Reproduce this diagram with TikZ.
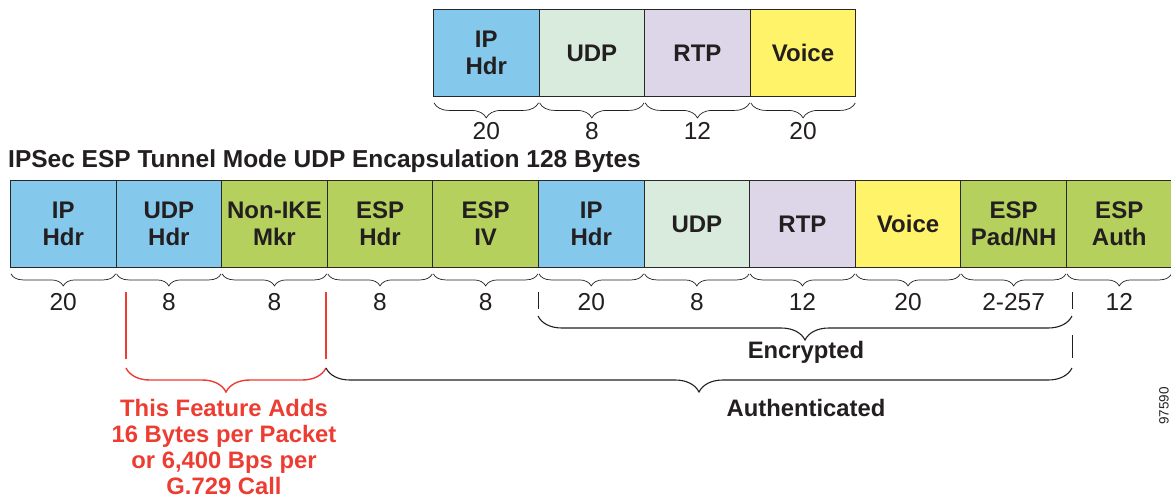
\documentclass[tikz,border=0pt]{standalone}
\usepackage{fontspec}
\setmainfont{Liberation Sans}
\usetikzlibrary{decorations.pathreplacing}
\definecolor{ipblue}{RGB}{132,200,236}
\definecolor{udpgreen}{RGB}{216,235,221}
\definecolor{rtppurple}{RGB}{221,213,232}
\definecolor{voiceyellow}{RGB}{255,243,106}
\definecolor{espgreen}{RGB}{181,208,92}
\definecolor{featred}{RGB}{237,61,50}
\definecolor{ink}{RGB}{35,31,32}
\definecolor{boxline}{RGB}{40,40,40}
\begin{document}
\begin{tikzpicture}[x=1pt,y=-1pt,
  box/.style={draw=boxline, line width=0.9pt, minimum width=105.6pt, minimum height=87pt,
    anchor=north west, inner sep=0pt, align=center,
    font=\fontsize{24}{27}\selectfont\bfseries, text=ink},
  brc/.style={draw=ink, line width=0.7pt, decorate, decoration={brace, mirror, amplitude=#1}},
  num/.style={font=\fontsize{24.5}{26}\selectfont, text=ink, inner sep=0pt},
  lbl/.style={font=\fontsize{23.8}{26}\selectfont\bfseries, text=ink, inner sep=0pt},
  redtxt/.style={font=\fontsize{23.8}{26}\selectfont\bfseries, text=featred, align=center, inner sep=0pt},
  redln/.style={draw=featred, line width=1.4pt},
  blkln/.style={draw=ink, line width=0.8pt}
]
\useasboundingbox (0,0) rectangle (1171,499);
\clip (0,0) rectangle (1171,499);

% top row
\node[box, fill=ipblue] (t1) at (433,9) {IP\\Hdr};
\node[box, fill=udpgreen] (t2) at (538.6,9) {UDP};
\node[box, fill=rtppurple] (t3) at (644.2,9) {RTP};
\node[box, fill=voiceyellow] (t4) at (749.8,9) {Voice};
\foreach \n/\v in {t1/20,t2/8,t3/12,t4/20}{
  \draw[brc=15pt] ([xshift=1pt,yshift=-6pt]\n.south west) -- ([xshift=-1pt,yshift=-6pt]\n.south east);
  \node[num] (\n num) at ([yshift=-34pt]\n.south) {\v};
}

% title
\node[anchor=base west, inner sep=0pt, font=\fontsize{24.5}{26}\selectfont\bfseries, text=ink] (title) at (8,167)
  {IPSec ESP Tunnel Mode UDP Encapsulation 128 Bytes};

% bottom row
\node[box, fill=ipblue] (b1) at (10,180) {IP\\Hdr};
\node[box, fill=ipblue] (b2) at (115.6,180) {UDP\\Hdr};
\node[box, fill=espgreen] (b3) at (221.2,180) {Non-IKE\\Mkr};
\node[box, fill=espgreen] (b4) at (326.8,180) {ESP\\Hdr};
\node[box, fill=espgreen] (b5) at (432.4,180) {ESP\\IV};
\node[box, fill=ipblue] (b6) at (538,180) {IP\\Hdr};
\node[box, fill=udpgreen] (b7) at (643.6,180) {UDP};
\node[box, fill=rtppurple] (b8) at (749.2,180) {RTP};
\node[box, fill=voiceyellow] (b9) at (854.8,180) {Voice};
\node[box, fill=espgreen] (b10) at (960.4,180) {ESP\\Pad/NH};
\node[box, fill=espgreen] (b11) at (1066,180) {ESP\\Auth};
\foreach \n/\v in {b1/20,b2/8,b3/8,b4/8,b5/8,b6/20,b7/8,b8/12,b9/20,b10/2-257,b11/12}{
  \draw[brc=12pt] ([xshift=1pt,yshift=-6pt]\n.south west) -- ([xshift=-1pt,yshift=-6pt]\n.south east);
  \node[num] (\n num) at ([yshift=-34pt]\n.south) {\v};
}

% red feature marker
\coordinate (r1t) at (126,292);
\coordinate (r1b) at (126,359);
\coordinate (r2t) at (326,292);
\coordinate (r2b) at (326,359);
\coordinate (rbl) at (126,368);
\coordinate (rbr) at (326,368);
\draw[redln] (r1t) -- (r1b);
\draw[redln] (r2t) -- (r2b);
\draw[brc=24pt, draw=featred, line width=1.4pt] (rbl) -- (rbr);
\node[redtxt, anchor=north] (feat) at (224,399)
  {This Feature Adds\\16 Bytes per Packet\\or 6,400 Bps per\\G.729 Call};

% encrypted
\coordinate (e1t) at (538,292);
\coordinate (e1b) at (538,309);
\coordinate (e2t) at (1072,292);
\coordinate (e2b) at (1072,309);
\coordinate (ebl) at (538,316);
\coordinate (ebr) at (1072,316);
\draw[blkln] (e1t) -- (e1b);
\draw[blkln] (e2t) -- (e2b);
\draw[brc=24pt, line width=1.1pt] (ebl) -- (ebr);
\node[lbl] (enc) at (806,352) {Encrypted};

% authenticated
\coordinate (a2t) at (1072,335);
\coordinate (a2b) at (1072,358);
\coordinate (abl) at (326,368);
\coordinate (abr) at (1072,368);
\draw[blkln] (a2t) -- (a2b);
\draw[brc=24pt, line width=1.1pt] (abl) -- (abr);
\node[lbl] (auth) at (806,408) {Authenticated};

% figure number
\node[rotate=90, font=\fontsize{13.5}{15}\selectfont, text=ink, inner sep=0pt] (fig) at (1164,406) {97590};
\end{tikzpicture}
\end{document}
